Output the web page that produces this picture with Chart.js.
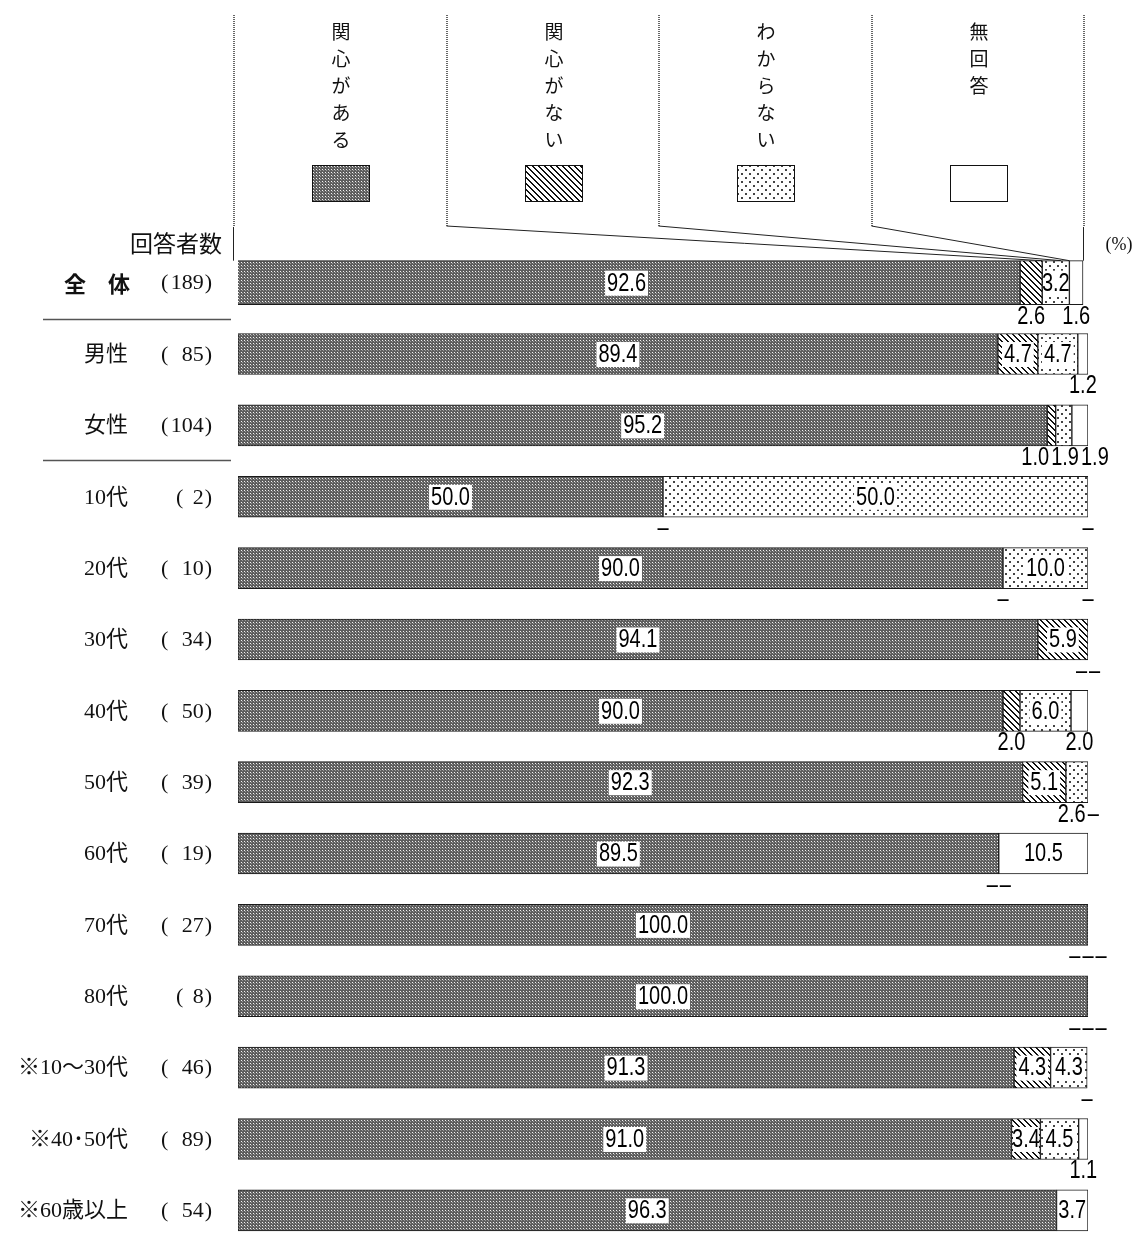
<!DOCTYPE html>
<html lang="ja">
<head>
<meta charset="utf-8">
<title>関心の有無</title>
<script src="https://cdn.jsdelivr.net/npm/chart.js@4.4.0/dist/chart.umd.min.js"></script>
<style>
  html, body { margin: 0; padding: 0; background: #fff; overflow: hidden; }
  canvas { display: block; }
</style>
</head>
<body>
<canvas id="chart" width="1134" height="1260"></canvas>
<script>
// rows
const categories = ['全　体', '男性', '女性', '10代', '20代', '30代', '40代', '50代', '60代', '70代', '80代', '※10～30代', '※40･50代', '※60歳以上'];
const respondents = [189, 85, 104, 2, 10, 34, 50, 39, 19, 27, 8, 46, 89, 54];

// answers (%)
const seriesNames = ['関心がある', '関心がない', 'わからない', '無回答'];
const interested    = [92.6, 89.4, 95.2, 50.0, 90.0, 94.1, 90.0, 92.3, 89.5, 100.0, 100.0, 91.3, 91.0, 96.3];
const notInterested = [2.6, 4.7, 1.0, 0, 0, 5.9, 2.0, 5.1, 0, 0, 0, 4.3, 3.4, 0];
const dontKnow      = [3.2, 4.7, 1.9, 50.0, 10.0, 0, 6.0, 2.6, 0, 0, 0, 4.3, 4.5, 0];
const noAnswer      = [1.6, 1.2, 1.9, 0, 0, 0, 2.0, 0, 10.5, 0, 0, 0, 1.1, 3.7];

const allSeries = [interested, notInterested, dontKnow, noAnswer];

const SERIF = "'Liberation Serif', 'Noto Sans CJK JP', serif";
const GOTHIC = "'Noto Sans CJK JP', sans-serif";
const NUM_FONT = "25px 'Liberation Sans', Arial, sans-serif";
const NUM_SX = 0.8;   // narrow digits
const BAR_H = 41;
const TOTAL_BAR_H = 44;
const TOTAL_SHIFT = -5;  // 全体 bar sits a little further left

function tile(w, h, draw) {
    const c = document.createElement('canvas');
    c.width = w;
    c.height = h;
    const g = c.getContext('2d');
    draw(g);
    return g.createPattern(c, 'repeat');
}

// dark screen
const darkPattern = tile(3, 3, g => {
    g.fillStyle = '#5e5e5e';
    g.fillRect(0, 0, 3, 3);
    g.fillStyle = '#f2f2f2';
    g.fillRect(1, 1, 1, 1);
    g.fillStyle = '#9a9a9a';
    g.fillRect(2, 2, 1, 1);
});

// backslash hatching
const hatchPattern = tile(6, 6, g => {
    g.fillStyle = '#fff';
    g.fillRect(0, 0, 6, 6);
    g.fillStyle = '#111';
    for (let i = 0; i < 6; i++) {
        g.fillRect(i, i, 1, 1);
        g.fillRect((i + 1) % 6, i, 1, 1);
    }
});

// scattered dots
const dotPattern = tile(8, 8, g => {
    g.fillStyle = '#fff';
    g.fillRect(0, 0, 8, 8);
    g.fillStyle = '#444';
    g.fillRect(1, 1, 2, 2);
    g.fillRect(5, 5, 2, 2);
});

const fills = [darkPattern, hatchPattern, dotPattern, '#ffffff'];

function numText(ctx, t, cx, cy) {
    ctx.save();
    ctx.translate(cx, cy);
    ctx.scale(NUM_SX, 1);
    ctx.font = NUM_FONT;
    ctx.textAlign = 'center';
    ctx.textBaseline = 'middle';
    ctx.fillStyle = '#000';
    ctx.fillText(t, 0, 1);
    ctx.restore();
}

function numWidth(ctx, t) {
    ctx.save();
    ctx.font = NUM_FONT;
    const w = ctx.measureText(t).width * NUM_SX;
    ctx.restore();
    return w;
}

// push crowded labels under a bar apart
function spread(items, gap) {
    items.sort((a, b) => a.x - b.x);
    for (let k = 0; k < 30; k++) {
        for (let i = 1; i < items.length; i++) {
            const a = items[i - 1], b = items[i];
            const need = (a.w + b.w) / 2 + gap;
            const d = b.x - a.x;
            if (d < need) {
                const s = (need - d) / 2;
                a.x -= s;
                b.x += s;
            }
        }
    }
}

const decor = {
    id: 'decor',
    afterDatasetsUpdate(chart) {
        chart.data.datasets.forEach((ds, i) => {
            const bar = chart.getDatasetMeta(i).data[0];
            if (!bar) return;
            bar.x += TOTAL_SHIFT;
            bar.base += TOTAL_SHIFT;
            bar.height = TOTAL_BAR_H;
        });
    },
    beforeDraw(chart) {
        const { ctx, chartArea, scales: { x, y } } = chart;
        const left = chartArea.left + TOTAL_SHIFT;
        const right = chartArea.right + TOTAL_SHIFT;
        const colW = (right - left) / 4;
        const barTop = y.getPixelForValue(0) - TOTAL_BAR_H / 2;

        ctx.save();
        // column dividers of the legend header
        ctx.strokeStyle = '#666';
        ctx.lineWidth = 2;
        ctx.setLineDash([1, 1]);
        for (let k = 0; k <= 4; k++) {
            const dx = Math.round(left + k * colW) + 1;
            ctx.beginPath();
            ctx.moveTo(dx, 15);
            ctx.lineTo(dx, 227);
            ctx.stroke();
        }
        ctx.setLineDash([]);
        ctx.strokeStyle = '#222';
        ctx.lineWidth = 1;
        // outer edges down to the 全体 bar
        [left, right].forEach(ex => {
            ctx.beginPath();
            ctx.moveTo(Math.round(ex) + 0.5, 227);
            ctx.lineTo(Math.round(ex) + 0.5, barTop);
            ctx.stroke();
        });
        // leaders from the small columns to their segments
        const ends = [95.2, 97.4, 98.4];
        ends.forEach((v, k) => {
            const sx = Math.round(left + (k + 1) * colW) + 0.5;
            ctx.beginPath();
            ctx.moveTo(sx, 226);
            ctx.lineTo(x.getPixelForValue(v) + TOTAL_SHIFT, barTop);
            ctx.stroke();
        });

        // legend names (vertical) and swatches
        ctx.font = '19px ' + GOTHIC;
        ctx.textAlign = 'center';
        ctx.textBaseline = 'middle';
        seriesNames.forEach((name, k) => {
            const cx = Math.round(left + (k + 0.5) * colW) + 2;
            ctx.fillStyle = '#111';
            [...name].forEach((ch, j) => ctx.fillText(ch, cx, 32 + j * 27));
            ctx.fillStyle = fills[k];
            ctx.fillRect(cx - 29, 165, 58, 36);
            ctx.strokeStyle = '#111';
            ctx.strokeRect(cx - 28.5, 165.5, 57, 36);
        });

        // row headings
        ctx.fillStyle = '#111';
        ctx.textBaseline = 'middle';
        ctx.textAlign = 'right';
        ctx.font = '23px ' + SERIF;
        ctx.fillText('回答者数', 222, 246);
        ctx.font = '18px ' + SERIF;
        ctx.textAlign = 'center';
        ctx.fillText('(%)', 1119, 245);

        ctx.font = '22px ' + SERIF;
        const pw = ctx.measureText(')').width;
        categories.forEach((cat, r) => {
            const cy = y.getPixelForValue(r) + 1;
            ctx.textAlign = 'right';
            ctx.font = (r === 0 ? 'bold 22px ' + GOTHIC : '22px ' + SERIF);
            ctx.fillText(cat, r === 0 ? 130 : 128, cy);
            ctx.font = '22px ' + SERIF;
            const n = String(respondents[r]);
            ctx.fillText(')', 212, cy);
            ctx.fillText(n, 212 - pw - 1, cy);
            ctx.textAlign = 'left';
            ctx.fillText('(', n.length === 1 ? 176 : 161, cy);
        });

        // group separators
        ctx.strokeStyle = '#555';
        ctx.lineWidth = 1.5;
        [[0.5, 1], [2.5, -1]].forEach(([v, off]) => {
            const sy = Math.round(y.getPixelForValue(v)) + off + 0.5;
            ctx.beginPath();
            ctx.moveTo(43, sy);
            ctx.lineTo(231, sy);
            ctx.stroke();
        });
        ctx.restore();
    },
    afterDatasetsDraw(chart) {
        const { ctx, scales: { x, y } } = chart;
        categories.forEach((cat, r) => {
            const shift = r === 0 ? TOTAL_SHIFT : 0;
            const half = (r === 0 ? TOTAL_BAR_H : BAR_H) / 2;
            const yc = y.getPixelForValue(r);
            let cum = 0;
            const below = [];
            allSeries.forEach(vals => {
                const v = vals[r];
                const x0 = x.getPixelForValue(cum) + shift;
                const x1 = x.getPixelForValue(Math.min(100, cum + v)) + shift;
                cum += v;
                const cx = (x0 + x1) / 2;
                if (v >= 3) {
                    const t = v.toFixed(1);
                    const w = numWidth(ctx, t);
                    const bl = Math.max(x0 + 1.5, cx - w / 2 - 2);
                    const br = Math.min(x1 - 1.5, cx + w / 2 + 2);
                    ctx.fillStyle = '#fff';
                    ctx.fillRect(bl, yc - 12, br - bl, 25);
                    numText(ctx, t, cx, yc);
                } else {
                    const t = v > 0 ? v.toFixed(1) : '–';
                    below.push({ t, x: cx, w: numWidth(ctx, t) });
                }
            });
            spread(below, 2);
            below.forEach(b => numText(ctx, b.t, b.x, yc + half + 11));
        });
    }
};

new Chart(document.getElementById('chart'), {
    type: 'bar',
    data: {
        labels: categories,
        datasets: seriesNames.map((name, k) => ({
            label: name,
            data: allSeries[k],
            backgroundColor: fills[k],
            borderColor: '#1a1a1a',
            borderWidth: 1,
            borderSkipped: false,
            barThickness: BAR_H
        }))
    },
    options: {
        indexAxis: 'y',
        responsive: false,
        animation: false,
        layout: { padding: { left: 238, right: 46, top: 247, bottom: 14 } },
        scales: {
            x: { stacked: true, min: 0, max: 100, display: false },
            y: { stacked: true, display: false }
        },
        plugins: {
            legend: { display: false },
            tooltip: { enabled: false }
        }
    },
    plugins: [decor]
});
</script>
</body>
</html>
